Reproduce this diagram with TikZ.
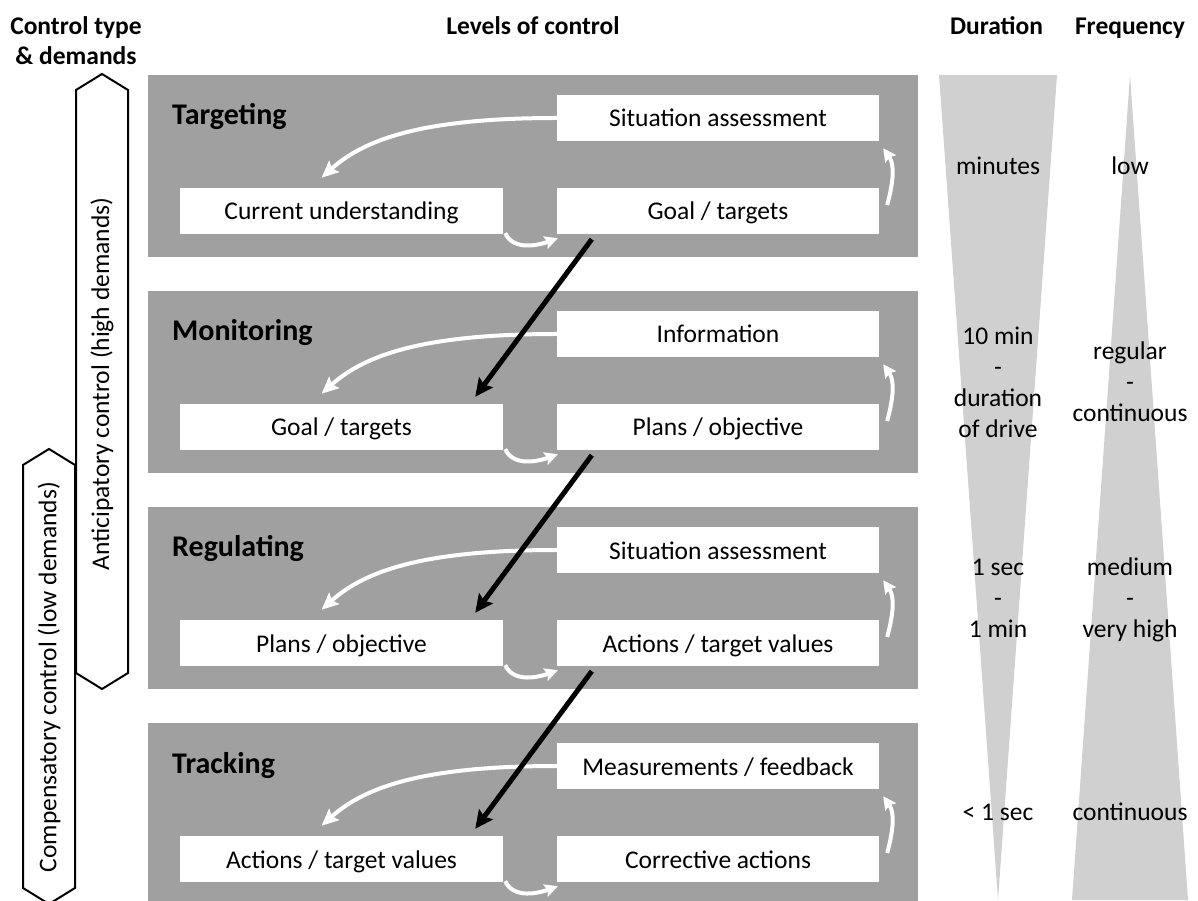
\documentclass[tikz,border=0pt]{standalone}
\usepackage{fontspec}
\setmainfont{Carlito}
\usetikzlibrary{arrows.meta}

\definecolor{panelgray}{RGB}{160,160,160}
\definecolor{wedgegray}{RGB}{208,208,208}

\tikzset{
  textfont/.style={font=\fontsize{25.5}{31}\selectfont},
  headfont/.style={font=\fontsize{25.5}{30}\selectfont\bfseries},
  levelbox/.style={fill=white, minimum height=46pt, inner sep=0pt, textfont,
                   text height=19pt, text depth=1pt},
  panel/.style={fill=panelgray, draw=none, inner sep=0pt, anchor=north west,
                minimum width=770pt, minimum height=182pt},
  leveltitle/.style={anchor=base west, inner sep=0pt,
                     font=\fontsize{30}{36}\selectfont\bfseries},
  loopbig/.style={white, line width=4pt, -{Stealth[length=17pt,width=15pt,inset=3pt]}},
  loopsmall/.style={white, line width=4pt, -{Stealth[length=13pt,width=13pt,inset=2pt]}},
  flow/.style={black, line width=5pt, -{Stealth[length=18pt,width=17pt,inset=3pt]}},
  band/.style={draw=black, line width=2pt, fill=white, line join=miter},
  coltext/.style={anchor=base, inner sep=0pt, textfont},
  colhead/.style={anchor=base, inner sep=0pt, headfont},
}

% one level of control: #1 index, #2 top edge, #3 title,
% #4 lower left box, #5 upper right box, #6 lower right box
\newcommand\levelpanel[6]{%
  \node[panel] (P#1) at (148,#2) {};
  \node[leveltitle] (T#1) at (172,#2-50) {#3};
  \node[levelbox, minimum width=323pt] (L#1) at (341.5,#2-136) {#4};
  \node[levelbox, minimum width=322pt] (A#1) at (718,#2-43) {#5};
  \node[levelbox, minimum width=322pt] (B#1) at (718,#2-136) {#6};
  \draw[loopbig] (A#1.west) to[out=180, in=42, out distance=130pt, in distance=60pt]
      ([xshift=-20pt,yshift=10pt]L#1.north);
  \draw[loopsmall] ([xshift=2pt,yshift=1pt]L#1.south east)
      to[out=-65, in=200, out distance=20pt, in distance=20pt]
      ([xshift=1pt,yshift=-4pt]B#1.south west);
  \draw[loopsmall] ([xshift=8pt,yshift=6pt]B#1.east)
      to[out=75, in=-55, out distance=25pt, in distance=20pt]
      ([xshift=4pt,yshift=-7pt]A#1.south east);
}

\begin{document}
\begin{tikzpicture}[x=1pt, y=1pt]
  \useasboundingbox (0,0) rectangle (1198,900);
  \clip (0,0) rectangle (1198,900);

  % column headings
  \node[colhead] (h1) at (76,865) {Control type};
  \node[colhead] (h2) at (76,835) {\& demands};
  \node[colhead] (h3) at (533,865) {Levels of control};
  \node[colhead] (h4) at (996.5,865) {Duration};
  \node[colhead] (h5) at (1130,865) {Frequency};

  % control type bands
  \draw[band] (49,451) -- (75,435) -- (75,12) -- (49,-4) -- (23,12) -- (23,435) -- cycle;
  \node[textfont, rotate=90, inner sep=0pt] (comp) at (49,223) {Compensatory control (low demands)};
  \draw[band] (102,826) -- (128,810) -- (128,227) -- (102,211) -- (76,227) -- (76,810) -- cycle;
  \node[textfont, rotate=90, inner sep=0pt] (antic) at (102,516) {Anticipatory control (high demands)};

  % levels of control
  \levelpanel{0}{825}{Targeting}{Current understanding}{Situation assessment}{Goal / targets}
  \levelpanel{1}{609}{Monitoring}{Goal / targets}{Information}{Plans / objective}
  \levelpanel{2}{393}{Regulating}{Plans / objective}{Situation assessment}{Actions / target values}
  \levelpanel{3}{177}{Tracking}{Actions / target values}{Measurements / feedback}{Corrective actions}

  % hand-over between levels
  \draw[flow] ([xshift=35pt,yshift=-5pt]B0.south west) -- ([xshift=-28pt,yshift=7pt]L1.north east);
  \draw[flow] ([xshift=35pt,yshift=-5pt]B1.south west) -- ([xshift=-28pt,yshift=7pt]L2.north east);
  \draw[flow] ([xshift=35pt,yshift=-5pt]B2.south west) -- ([xshift=-28pt,yshift=7pt]L3.north east);

  % duration and frequency wedges
  \fill[wedgegray] (939,825) -- (1057,825) -- (998,0) -- cycle;
  \fill[wedgegray] (1130,825) -- (1188,0) -- (1072,0) -- cycle;

  % duration
  \node[coltext] (d1) at (998,725) {minutes};
  \node[coltext] (d2) at (998,555) {10 min};
  \node[coltext] (d3) at (998,524) {-};
  \node[coltext] (d4) at (998,493) {duration};
  \node[coltext] (d5) at (998,462) {of drive};
  \node[coltext] (d6) at (998,325) {1 sec};
  \node[coltext] (d7) at (998,294) {-};
  \node[coltext] (d8) at (998,263) {1 min};
  \node[coltext] (d9) at (998,80) {< 1 sec};

  % frequency
  \node[coltext] (f1) at (1130,725) {low};
  \node[coltext] (f2) at (1130,540) {regular};
  \node[coltext] (f3) at (1130,509) {-};
  \node[coltext] (f4) at (1130,478) {continuous};
  \node[coltext] (f5) at (1130,325) {medium};
  \node[coltext] (f6) at (1130,294) {-};
  \node[coltext] (f7) at (1130,263) {very high};
  \node[coltext] (f8) at (1130,80) {continuous};
\end{tikzpicture}
\end{document}
